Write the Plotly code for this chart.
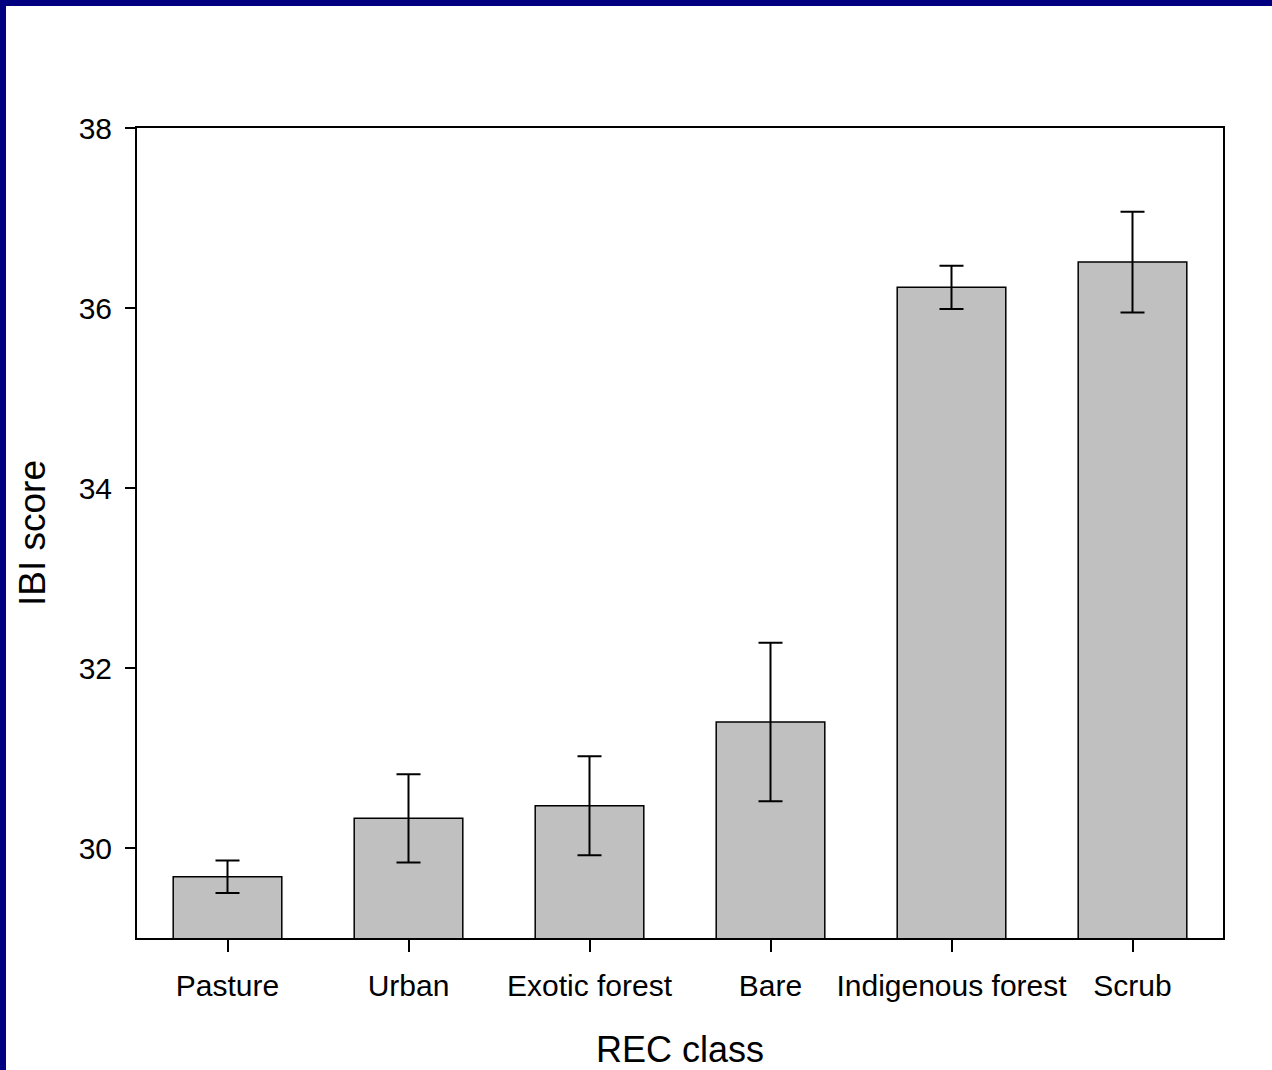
import plotly.graph_objects as go

# REC class means of the IBI score with their standard errors
categories = ["Pasture", "Urban", "Exotic forest", "Bare", "Indigenous forest", "Scrub"]
ibi_mean = [29.68, 30.33, 30.47, 31.40, 36.23, 36.51]
ibi_se = [0.18, 0.49, 0.55, 0.88, 0.24, 0.56]
y_ticks = [30, 32, 34, 36, 38]

W, H = 1272, 1070
L, R, T, B = 137, 49, 128, 132
FONT = "Liberation Sans, Arial, sans-serif"

fig = go.Figure(
    go.Bar(
        x=categories,
        y=ibi_mean,
        width=0.6,
        marker=dict(color="#c0c0c0", line=dict(color="black", width=1.5)),
        error_y=dict(type="data", array=ibi_se, visible=True,
                     color="black", thickness=2, width=12),
    )
)

pw, ph = W - L - R, H - T - B


def px_x(p):
    return (p - L) / pw


def px_y(p):
    return (H - B - p) / ph


# navy frame strips along the top and left edges of the page
border = "#000080"
fig.add_shape(type="rect", xref="paper", yref="paper",
              x0=px_x(0), x1=px_x(W), y0=px_y(6), y1=px_y(0),
              fillcolor=border, line=dict(width=0), layer="below")
fig.add_shape(type="rect", xref="paper", yref="paper",
              x0=px_x(0), x1=px_x(6), y0=px_y(H), y1=px_y(0),
              fillcolor=border, line=dict(width=0), layer="below")

fig.update_layout(
    width=W, height=H,
    margin=dict(l=L, r=R, t=T, b=B, pad=0, autoexpand=False),
    paper_bgcolor="white", plot_bgcolor="white",
    font=dict(family=FONT, size=30, color="black"),
    showlegend=False,
    bargap=0.4,
)

fig.update_xaxes(
    range=[-0.5, 5.5], automargin=False,
    showline=True, linecolor="black", linewidth=2, mirror=True,
    ticks="outside", ticklen=12, tickwidth=2, tickcolor="black",
    showgrid=False, zeroline=False,
    tickfont=dict(size=30),
    ticklabelstandoff=8,
    title=dict(text="REC class", font=dict(size=36), standoff=42),
)
fig.update_yaxes(
    range=[29, 38], automargin=False,
    tickvals=y_ticks, ticktext=[str(v) for v in y_ticks],
    showline=True, linecolor="black", linewidth=2, mirror=True,
    ticks="outside", ticklen=10, tickwidth=2, tickcolor="black",
    showgrid=False, zeroline=False,
    tickfont=dict(size=30),
    ticklabelstandoff=7,
    title=dict(text="IBI score", font=dict(size=37), standoff=22),
)

fig.write_html("out.html")
